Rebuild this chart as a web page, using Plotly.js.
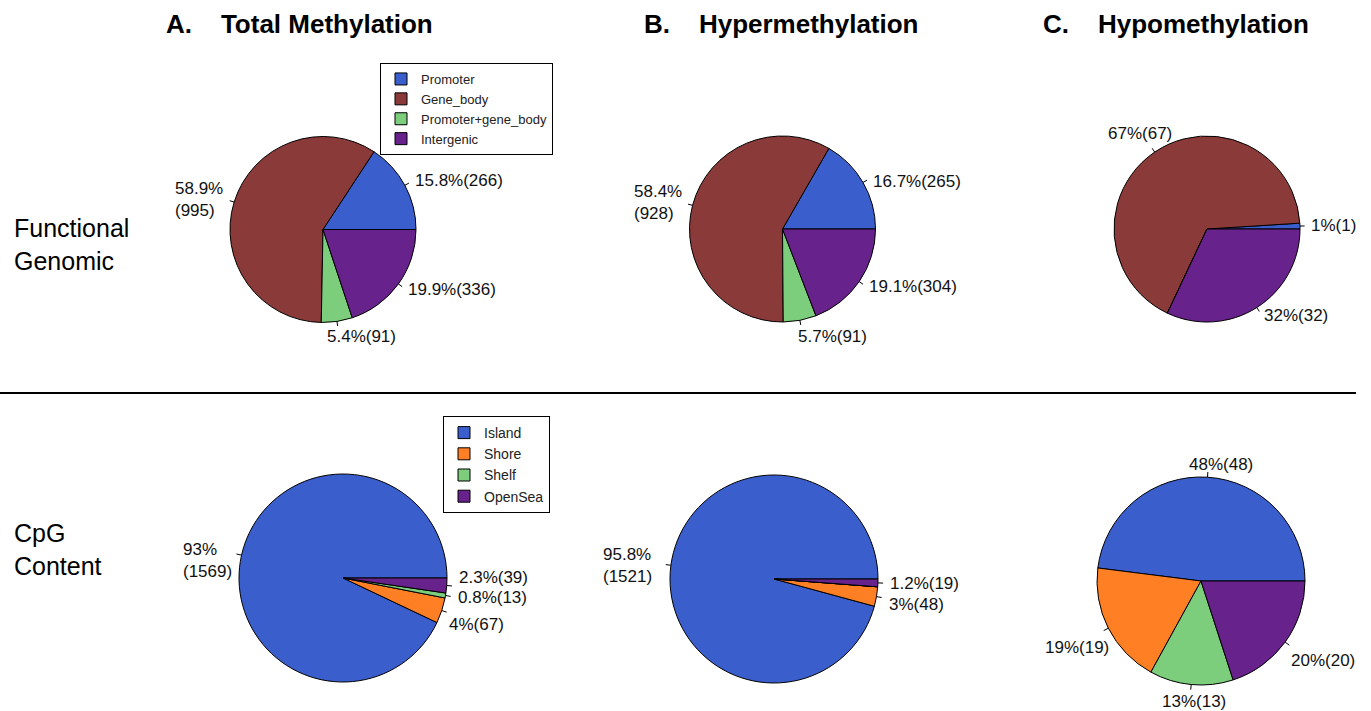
<!DOCTYPE html>
<html><head><meta charset="utf-8">
<script src="https://cdn.plot.ly/plotly-3.0.1.min.js"></script>
<style>html,body{margin:0;padding:0;background:#fff}#chart{width:1371px;height:711px}</style>
</head><body><div id="chart"></div>
<script>
// ---------------- data ----------------
const functionalLabels = ['Promoter', 'Gene_body', 'Promoter+gene_body', 'Intergenic'];
const cpgLabels = ['Island', 'Shore', 'Shelf', 'OpenSea'];
const totalFunctional = [266, 995, 91, 336];
const hyperFunctional = [265, 928, 91, 304];
const hypoFunctional  = [1, 67, 0, 32];
const totalCpG = [1569, 67, 13, 39];
const hyperCpG = [1521, 48, 0, 19];
const hypoCpG  = [48, 19, 13, 20];
const columnTitles = ['A.\u00a0\u00a0\u00a0\u00a0Total Methylation', 'B.\u00a0\u00a0\u00a0\u00a0Hypermethylation', 'C.\u00a0\u00a0\u00a0\u00a0Hypomethylation'];
const rowTitles = ['Functional<br>Genomic', 'CpG<br>Content'];

// ---------------- style / layout ----------------
const W = 1371, H = 711;
const FONT = 'Liberation Sans, Arial, Helvetica, sans-serif';
const functionalColors = ['#3A5FCD', '#8B3A3A', '#7CCD7C', '#68228B'];
const cpgColors = ['#3A5FCD', '#FF7F24', '#7CCD7C', '#68228B'];

const pies = [
  {labels: functionalLabels, values: totalFunctional, colors: functionalColors, cx: 323, cy: 229.5, r: 93, legend: 'legend', wrap: [1]},
  {labels: functionalLabels, values: hyperFunctional, colors: functionalColors, cx: 782.5, cy: 229, r: 93, legend: null, wrap: [1]},
  {labels: functionalLabels, values: hypoFunctional, colors: functionalColors, cx: 1207, cy: 229, r: 93, legend: null, wrap: []},
  {labels: cpgLabels, values: totalCpG, colors: cpgColors, cx: 343, cy: 578, r: 104, legend: 'legend2', wrap: [0]},
  {labels: cpgLabels, values: hyperCpG, colors: cpgColors, cx: 774, cy: 579, r: 104, legend: null, wrap: [0]},
  {labels: cpgLabels, values: hypoCpG, colors: cpgColors, cx: 1201, cy: 581, r: 104, legend: null, wrap: []}
];
// small manual label offsets (pixels) as in the original figure
const labelNudge = {
  '0-2': [-13, 6],
  '1-0': [0, 4], '1-2': [-6, 7],
  '2-1': [25, -11],
  '3-0': [3, 8], '3-1': [-5, 11], '3-3': [0, -9],
  '4-0': [-7, 2], '4-1': [0, 6],
  '5-0': [-21, -2], '5-1': [12, 15], '5-2': [38, 7], '5-3': [-5, 12]
};

const px = x => x / W;
const py = y => 1 - y / H;

const traces = [];
const annotations = [];
const shapes = [];

pies.forEach((p, pi) => {
  const total = p.values.reduce((a, b) => a + b, 0);
  // Plotly (counterclockwise) puts the first slice clockwise of `rotation`;
  // shift so the first slice starts at 3 o'clock and runs counterclockwise.
  const rot = 90 - 360 * p.values[0] / total;
  traces.push({
    type: 'pie',
    labels: p.labels,
    values: p.values,
    sort: false,
    direction: 'counterclockwise',
    rotation: rot,
    textinfo: 'none',
    hoverinfo: 'label+value+percent',
    marker: {colors: p.colors, line: {color: '#000', width: 1}},
    domain: {x: [px(p.cx - p.r), px(p.cx + p.r)], y: [py(p.cy + p.r), py(p.cy - p.r)]},
    showlegend: !!p.legend,
    legend: p.legend || 'legend'
  });
  let cum = 0;
  p.values.forEach((v, i) => {
    const frac = v / total;
    const mid = cum + frac / 2;
    cum += frac;
    if (v === 0) return;
    const th = 2 * Math.PI * mid;
    const c = Math.cos(th), s = Math.sin(th);
    // tick mark
    shapes.push({type: 'line', xref: 'paper', yref: 'paper',
      x0: px(p.cx + p.r * c), y0: py(p.cy - p.r * s),
      x1: px(p.cx + 1.05 * p.r * c), y1: py(p.cy - 1.05 * p.r * s),
      line: {color: '#000', width: 1}});
    const pct = Math.round(frac * 1000) / 10;
    const txt = pct + '%' + (p.wrap.includes(i) ? '<br>' : '') + '(' + v + ')';
    const n = labelNudge[pi + '-' + i] || [0, 0];
    const lx = p.cx + 1.1 * p.r * c + n[0];
    const ly = p.cy - 1.1 * p.r * s + n[1];
    annotations.push({xref: 'paper', yref: 'paper', x: px(lx), y: py(ly),
      xanchor: c < 0 ? 'right' : 'left', yanchor: 'middle', align: 'left',
      text: txt, showarrow: false, font: {family: FONT, size: 17, color: '#111'}});
  });
});

// column headings
const headX = [299, 781, 1176];
columnTitles.forEach((t, i) => annotations.push({xref: 'paper', yref: 'paper', x: px(headX[i]), y: py(24),
  xanchor: 'center', yanchor: 'middle', text: '<b>' + t + '</b>', showarrow: false,
  font: {family: FONT, size: 26, color: '#000'}}));
// row headings
const rowY = [245, 549];
rowTitles.forEach((t, i) => annotations.push({xref: 'paper', yref: 'paper', x: px(12), y: py(rowY[i]),
  xanchor: 'left', yanchor: 'middle', align: 'left', text: t, showarrow: false,
  font: {family: FONT, size: 25, color: '#000'}}));

// divider
shapes.push({type: 'line', xref: 'paper', yref: 'paper', x0: 0, x1: px(1356), y0: py(393), y1: py(393),
  line: {color: '#000', width: 2}});

const layout = {
  width: W, height: H,
  margin: {l: 0, r: 0, t: 0, b: 0},
  paper_bgcolor: '#fff', plot_bgcolor: '#fff',
  font: {family: FONT, color: '#000'},
  annotations: annotations,
  shapes: shapes,
  legend: {x: px(553), xanchor: 'right', y: py(155), yanchor: 'bottom',
    bgcolor: '#fff', bordercolor: '#000', borderwidth: 1,
    font: {family: FONT, size: 13, color: '#222'}, tracegroupgap: 0},
  legend2: {x: px(550), xanchor: 'right', y: py(416), yanchor: 'top',
    bgcolor: '#fff', bordercolor: '#000', borderwidth: 1,
    font: {family: FONT, size: 14, color: '#222'}, tracegroupgap: 0}
};

Plotly.newPlot('chart', traces, layout, {displayModeBar: false, staticPlot: true});
</script>
</body></html>
